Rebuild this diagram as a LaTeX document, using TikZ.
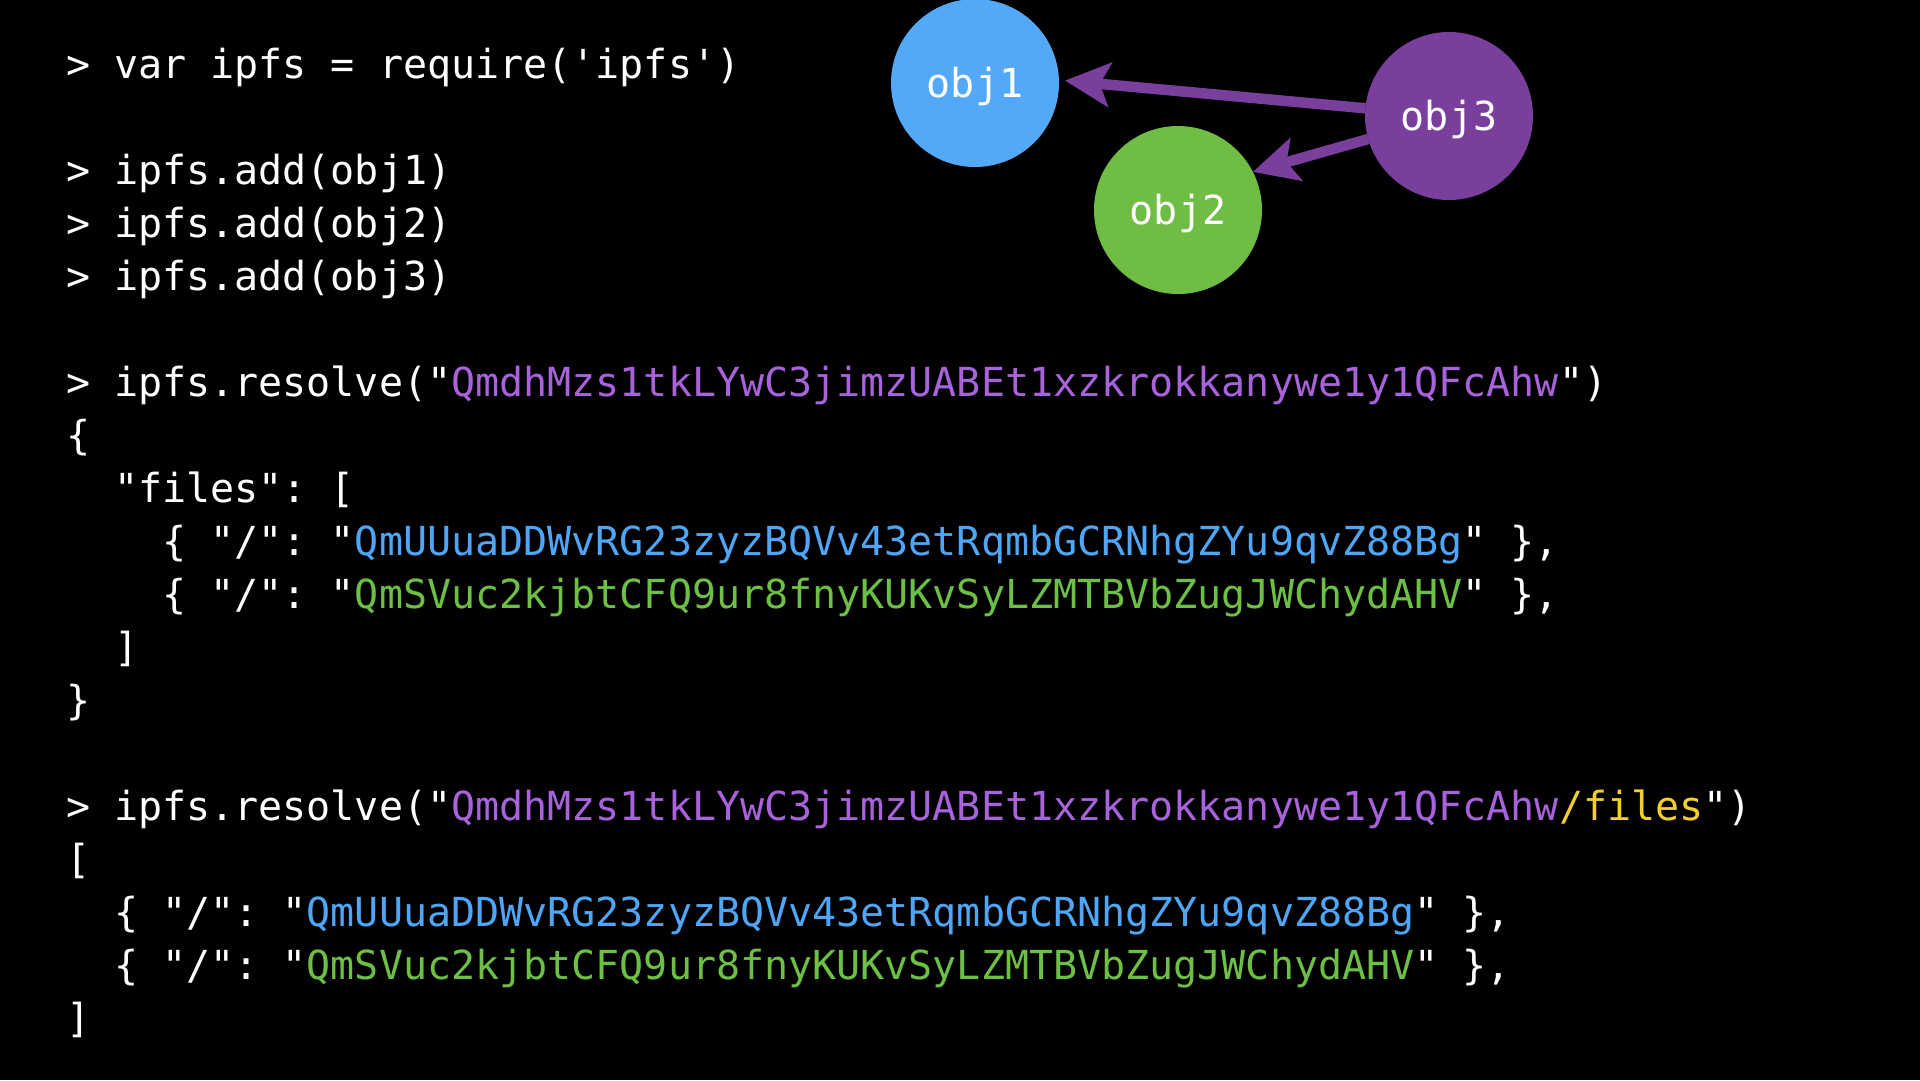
\documentclass[tikz,border=0pt]{standalone}
\usepackage{fontspec}
\usetikzlibrary{arrows.meta}
\newfontfamily\codefont{DejaVu Sans Mono}
\definecolor{hpurple}{HTML}{A862DB}
\definecolor{hblue}{HTML}{4FA6F6}
\definecolor{hgreen}{HTML}{6DBF45}
\definecolor{hyellow}{HTML}{F3CF2C}
\definecolor{cblue}{HTML}{53A8F8}
\definecolor{cgreen}{HTML}{6FBD44}
\definecolor{cpurple}{HTML}{7A3F9C}
\newcommand\hpu[1]{\textcolor{hpurple}{#1}}
\newcommand\hbl[1]{\textcolor{hblue}{#1}}
\newcommand\hgr[1]{\textcolor{hgreen}{#1}}
\newcommand\hye[1]{\textcolor{hyellow}{#1}}
\frenchspacing
\begin{document}
\begin{tikzpicture}[x=1pt,y=-1pt,
  codeline/.style={anchor=base west,inner sep=0pt,outer sep=0pt,text=white,
    font=\codefont\fontsize{40}{53}\selectfont\frenchspacing},
  objnode/.style={circle,inner sep=0pt,outer sep=0pt,minimum size=168pt,
    text=white,text height=28pt,text depth=0pt,
    font=\codefont\fontsize{40}{53}\selectfont},
  linkarrow/.style={draw=cpurple,line width=10.5pt,
    -{Stealth[length=45pt,width=44pt,inset=10pt]}}]
\fill[black] (0,0) rectangle (1920,1080);
\useasboundingbox (0,0) rectangle (1920,1080);
% code lines: x = 65 + col*24.08, baseline = 78 + 53k
\node[codeline] (l0) at (66,78) {> var ipfs = require('ipfs')};
\node[codeline] (l2) at (66,184) {> ipfs.add(obj1)};
\node[codeline] (l3) at (66,237) {> ipfs.add(obj2)};
\node[codeline] (l4) at (66,290) {> ipfs.add(obj3)};
\node[codeline] (l6) at (66,396) {> ipfs.resolve("\hpu{QmdhMzs1tkLYwC3jimzUABEt1xzkrokkanywe1y1QFcAhw}")};
\node[codeline] (l7) at (66,449) {\{};
\node[codeline] (l8) at (114.16,502) {"files": [};
\node[codeline] (l9) at (162.32,555) {\{ "/": "\hbl{QmUUuaDDWvRG23zyzBQVv43etRqmbGCRNhgZYu9qvZ88Bg}" \},};
\node[codeline] (l10) at (162.32,608) {\{ "/": "\hgr{QmSVuc2kjbtCFQ9ur8fnyKUKvSyLZMTBVbZugJWChydAHV}" \},};
\node[codeline] (l11) at (114.16,661) {]};
\node[codeline] (l12) at (66,714) {\}};
\node[codeline] (l14) at (66,820) {> ipfs.resolve("\hpu{QmdhMzs1tkLYwC3jimzUABEt1xzkrokkanywe1y1QFcAhw}\hye{/files}")};
\node[codeline] (l15) at (66,873) {[};
\node[codeline] (l16) at (114.16,926) {\{ "/": "\hbl{QmUUuaDDWvRG23zyzBQVv43etRqmbGCRNhgZYu9qvZ88Bg}" \},};
\node[codeline] (l17) at (114.16,979) {\{ "/": "\hgr{QmSVuc2kjbtCFQ9ur8fnyKUKvSyLZMTBVbZugJWChydAHV}" \},};
\node[codeline] (l18) at (66,1032) {]};
% objects
\node[objnode,fill=cblue] (o1) at (975,83) {obj1};
\node[objnode,fill=cgreen] (o2) at (1178,210) {obj2};
\node[objnode,fill=cpurple] (o3) at (1449,116) {obj3};
\draw[linkarrow,shorten >=6pt] (o3) -- (o1.2);
\draw[linkarrow] (o3) -- (o2.27);
\end{tikzpicture}
\end{document}
